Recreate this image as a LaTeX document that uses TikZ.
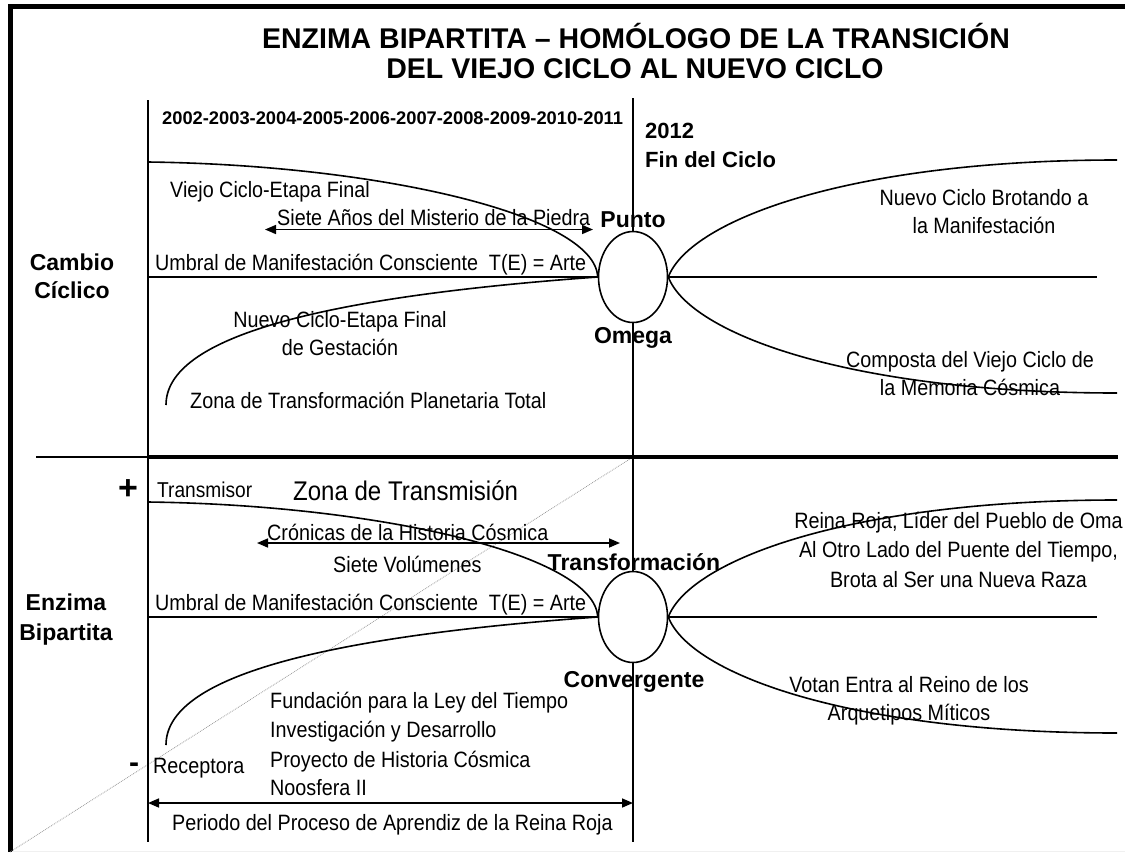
\documentclass[tikz,border=0pt]{standalone}
\usepackage{fontspec}
\setmainfont{Liberation Sans}
\newfontfamily\nar{Liberation Sans}[FakeStretch=0.89]
\usetikzlibrary{shapes.geometric,arrows.meta}
\newcommand\fsz[1]{\fontsize{#1}{#1}\selectfont}
\tikzset{
  ln/.style={line width=1.6pt},
  ell/.style={ellipse, draw, line width=1.6pt, fill=white, minimum width=69pt, minimum height=91pt, inner sep=0pt},
  txt/.style={inner sep=0pt, anchor=base west, font=\nar\fsz{22.2}},
  ctxt/.style={inner sep=0pt, anchor=base, font=\nar\fsz{22.2}},
  btxt/.style={inner sep=0pt, anchor=base, font=\bfseries\fsz{23}},
  bltxt/.style={inner sep=0pt, anchor=base west, font=\bfseries\fsz{22}},
  arr/.style={line width=1.6pt, {Triangle[length=11pt,width=9pt]}-{Triangle[length=11pt,width=9pt]}},
  dots/.style={gray!80, densely dotted, line width=0.8pt}
}
\begin{document}
\begin{tikzpicture}[x=1pt,y=-1pt]
\useasboundingbox (0,0) rectangle (1125,852);
% frame
\draw[line width=4.5pt, line join=miter] (10.5,852) -- (10.5,6.5) -- (1125,6.5);
\draw[gray!12, line width=1pt] (12,851) -- (1125,851);
% title
\node[inner sep=0pt, anchor=base, font=\bfseries\fsz{28.5}] (t1) at (636,48) {ENZIMA BIPARTITA – HOMÓLOGO DE LA TRANSICIÓN};
\node[inner sep=0pt, anchor=base, font=\bfseries\fsz{28.5}] (t2) at (635,78) {DEL VIEJO CICLO AL NUEVO CICLO};
% dotted diagonal
\coordinate (d1) at (10,852);
\coordinate (d2) at (633,457);
\draw[dots] (d1) -- (d2);
% separator
\draw[line width=2pt] (36,457) -- (148,457);
\draw[line width=4.5pt] (148,457) -- (1118,457);
% left axis
\draw[ln] (148,100) -- (148,842);
% sections
\foreach \o/\n in {0/a,340/b} {
  \node[ell] (\n) at (633,277+\o) {};
  \draw[ln] (148,277+\o) -- (\n.west);
  \draw[ln] (\n.east) -- (1097,277+\o);
  \draw[ln] (148,162+\o) .. controls (380,165+\o) and (595,215+\o) .. (\n.west);
  \draw[ln] (\n.west) .. controls (320,297+\o) and (166,337+\o) .. (166,405+\o);
  \draw[ln] (\n.east) .. controls (690,220+\o) and (850,160+\o) .. (1117,160+\o);
  \draw[ln] (\n.east) .. controls (690,334+\o) and (850,393+\o) .. (1117,393+\o);
}
% center axis
\draw[ln] (633,98) -- (a.north);
\draw[ln] (a.south) -- (b.north);
\draw[ln] (b.south) -- (633,842);
% arrows
\coordinate (p1) at (265,229.5);
\coordinate (p2) at (593,229.5);
\draw[arr] (p1) -- (p2);
\coordinate (q1) at (257,543);
\coordinate (q2) at (620,543);
\draw[arr] (q1) -- (q2);
\coordinate (r1) at (148,803);
\coordinate (r2) at (633,803);
\draw[arr] (r1) -- (r2);
% top section texts
\node[inner sep=0pt, anchor=base west, font=\bfseries\fsz{18.3}] (yrs) at (162,124) {2002-2003-2004-2005-2006-2007-2008-2009-2010-2011};
\node[bltxt] (y12) at (645,138) {2012};
\node[bltxt] (fin) at (645,167) {Fin del Ciclo};
\node[txt] (vc) at (170,197) {Viejo Ciclo-Etapa Final};
\node[txt] (sa) at (277,225) {Siete Años del Misterio de la Piedra};
\node[btxt] (pu) at (633,227) {Punto};
\node[btxt] (cam) at (72,270) {Cambio};
\node[btxt] (cic) at (72,298) {Cíclico};
\node[txt] (um1) at (155,270) {Umbral de Manifestación Consciente\ \ T(E) = Arte};
\node[ctxt] (nc1) at (340,327) {Nuevo Ciclo-Etapa Final};
\node[ctxt] (nc2) at (340,355) {de Gestación};
\node[btxt] (om) at (633,343) {Omega};
\node[txt] (zt) at (190,408) {Zona de Transformación Planetaria Total};
\node[ctxt] (nb1) at (984,205) {Nuevo Ciclo Brotando a};
\node[ctxt] (nb2) at (984,233) {la Manifestación};
\node[ctxt] (cv1) at (970,367) {Composta del Viejo Ciclo de};
\node[ctxt] (cv2) at (970,395) {la Memoria Cósmica};
% bottom section texts
\node[inner sep=0pt, anchor=center, font=\bfseries\fsz{34}] (plus) at (128,490) {+};
\node[inner sep=0pt, anchor=base west, font=\nar\fsz{21.5}] (tr) at (157,497) {Transmisor};
\node[inner sep=0pt, anchor=base west, font=\nar\fsz{27}] (zt2) at (293,500) {Zona de Transmisión};
\node[txt] (cr) at (267,540) {Crónicas de la Historia Cósmica};
\node[txt] (sv) at (333,572) {Siete Volúmenes};
\node[btxt] (tf) at (634,570) {Transformación};
\node[btxt] (enz) at (66,610) {Enzima};
\node[btxt] (bip) at (66,640) {Bipartita};
\node[txt] (um2) at (155,610) {Umbral de Manifestación Consciente\ \ T(E) = Arte};
\node[btxt] (cg) at (634,687) {Convergente};
\node[txt] (f1) at (270,708) {Fundación para la Ley del Tiempo};
\node[txt] (f2) at (270,737) {Investigación y Desarrollo};
\node[txt] (f3) at (270,767) {Proyecto de Historia Cósmica};
\node[txt] (f4) at (270,795) {Noosfera II};
\node[inner sep=0pt, anchor=center, font=\bfseries\fsz{30}] (minus) at (134,768) {-};
\node[txt] (rec) at (153,773) {Receptora};
\node[txt] (per) at (172,830) {Periodo del Proceso de Aprendiz de la Reina Roja};
\node[ctxt] (rr1) at (958.5,528) {Reina Roja, Líder del Pueblo de Oma};
\node[ctxt] (rr2) at (958.5,557) {Al Otro Lado del Puente del Tiempo,};
\node[ctxt] (rr3) at (958.5,587) {Brota al Ser una Nueva Raza};
\node[ctxt] (vo1) at (909,692) {Votan Entra al Reino de los};
\node[ctxt] (vo2) at (909,720) {Arquetipos Míticos};
\end{tikzpicture}
\end{document}
